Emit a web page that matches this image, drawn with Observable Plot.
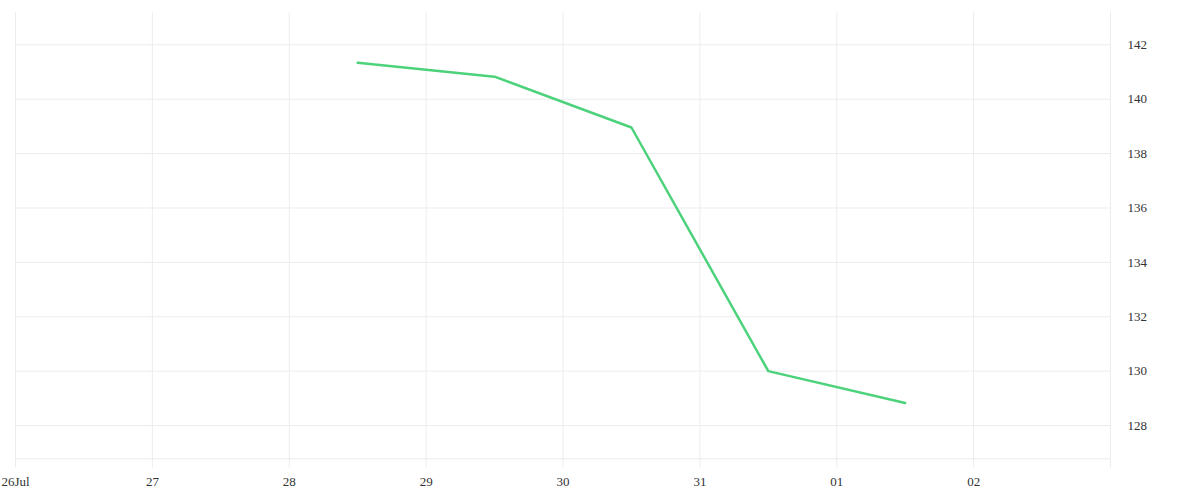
<!DOCTYPE html>
<html>
<head>
<meta charset="utf-8">
<script src="https://cdn.jsdelivr.net/npm/d3@7"></script>
<script src="https://cdn.jsdelivr.net/npm/@observablehq/plot@0.6"></script>
<style>
  html, body { margin: 0; padding: 0; background: #fff; }
  #chart { width: 1200px; height: 500px; }
</style>
</head>
<body>
<div id="chart"></div>
<script>
// Data
const dates = ["2023-07-28T12:00Z", "2023-07-29T12:00Z", "2023-07-30T12:00Z", "2023-07-31T12:00Z", "2023-08-01T12:00Z"];
const values = [141.34, 140.83, 138.96, 130.0, 128.83];
const tickDates = ["2023-07-26", "2023-07-27", "2023-07-28", "2023-07-29", "2023-07-30", "2023-07-31", "2023-08-01", "2023-08-02", "2023-08-03"];
const tickLabels = ["26Jul", "27", "28", "29", "30", "31", "01", "02", ""];
const yTicks = [128, 130, 132, 134, 136, 138, 140, 142];
const xDomain = ["2023-07-26", "2023-08-03"];
const yDomain = [126.775, 143.19];

const data = dates.map((d, i) => ({date: new Date(d), value: values[i]}));
const xt = tickDates.map(d => new Date(d + "T00:00Z"));
const labelOf = new Map(xt.map((d, i) => [+d, tickLabels[i]]));

const gridColor = "#ececec";
const textColor = "#333";

const chart = Plot.plot({
  width: 1200,
  height: 500,
  marginLeft: 15,
  marginRight: 90,
  marginTop: 12,
  marginBottom: 500 - 458.3,
  style: {fontFamily: "'Liberation Serif', serif", fontSize: "13px", color: textColor, background: "#fff"},
  x: {type: "utc", domain: xDomain.map(d => new Date(d + "T00:00Z"))},
  y: {domain: yDomain},
  marks: [
    Plot.ruleY(yTicks, {stroke: gridColor, strokeWidth: 1}),
    Plot.ruleY([yDomain[0]], {stroke: gridColor, strokeWidth: 1}),
    Plot.ruleX(xt, {stroke: gridColor, strokeWidth: 1}),
    Plot.axisX({
      ticks: xt,
      tickSize: 9,
      stroke: gridColor,
      tickPadding: 9,
      fill: textColor,
      fontSize: 13,
      tickFormat: d => labelOf.get(+d) ?? "",
      label: null
    }),
    Plot.axisY({
      anchor: "right",
      ticks: yTicks,
      tickSize: 0,
      tickPadding: 17,
      fill: textColor,
      fontSize: 13,
      label: null
    }),
    Plot.line(data, {x: "date", y: "value", stroke: "#4dd27c", strokeWidth: 2.5})
  ]
});
document.getElementById("chart").appendChild(chart);
</script>
</body>
</html>
